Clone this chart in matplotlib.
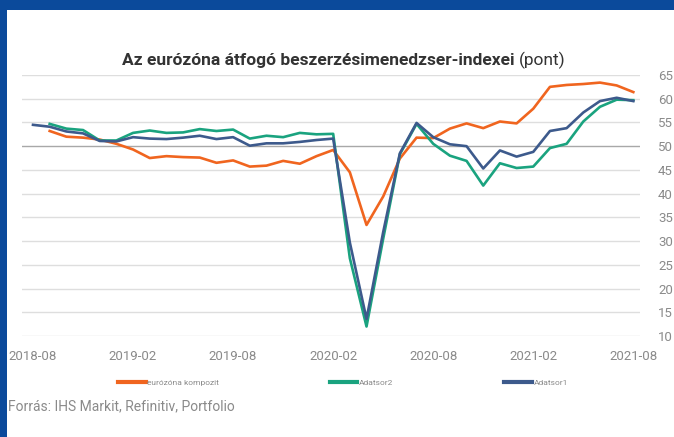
import numpy as np
import matplotlib
matplotlib.use("Agg")
import matplotlib.pyplot as plt
from matplotlib.patches import Rectangle
from matplotlib.lines import Line2D

months = ["2018-08","2018-09","2018-10","2018-11","2018-12","2019-01","2019-02","2019-03",
          "2019-04","2019-05","2019-06","2019-07","2019-08","2019-09","2019-10","2019-11",
          "2019-12","2020-01","2020-02","2020-03","2020-04","2020-05","2020-06","2020-07",
          "2020-08","2020-09","2020-10","2020-11","2020-12","2021-01","2021-02","2021-03",
          "2021-04","2021-05","2021-06","2021-07","2021-08"]
nan = np.nan
kompozit = [nan, 53.2, 52.0, 51.8, 51.4, 50.5, 49.3, 47.5, 47.9, 47.7, 47.6, 46.5, 47.0,
            45.7, 45.9, 46.9, 46.3, 47.9, 49.2, 44.5, 33.4, 39.4, 47.4, 51.8, 51.7, 53.7,
            54.8, 53.8, 55.2, 54.8, 57.9, 62.5, 62.9, 63.1, 63.4, 62.8, 61.4]
adatsor2 = [nan, 54.7, 53.7, 53.4, 51.2, 51.2, 52.8, 53.3, 52.8, 52.9, 53.6, 53.2, 53.5,
            51.6, 52.2, 51.9, 52.8, 52.5, 52.6, 26.4, 12.0, 30.5, 48.3, 54.7, 50.5, 48.0,
            46.9, 41.7, 46.4, 45.4, 45.7, 49.6, 50.5, 55.2, 58.3, 59.8, 59.7]
adatsor1 = [54.5, 54.1, 53.1, 52.7, 51.1, 51.0, 51.9, 51.6, 51.5, 51.8, 52.2, 51.5, 51.9,
            50.1, 50.6, 50.6, 50.9, 51.3, 51.6, 29.7, 13.6, 31.9, 48.5, 54.9, 51.9, 50.4,
            50.0, 45.3, 49.1, 47.8, 48.8, 53.2, 53.8, 57.1, 59.5, 60.2, 59.5]
series_names = ["eurózóna kompozit", "Adatsor2", "Adatsor1"]
xtick_labels = ["2018-08", "2019-02", "2019-08", "2020-02", "2020-08", "2021-02", "2021-08"]
yticks = [10, 15, 20, 25, 30, 35, 40, 45, 50, 55, 60, 65]

C_OR = "#f0651f"
C_GR = "#1aa37f"
C_BL = "#3d5a8c"
GRAY = "#8a8a8a"

plt.rcParams['font.family'] = ['Roboto', 'DejaVu Sans']

W, H = 674, 437
fig = plt.figure(figsize=(W/100, H/100), dpi=100)
fig.patch.set_facecolor("#0b4a9b")
fig.patches.append(Rectangle((7/W, 0), 1, (H-10)/H, transform=fig.transFigure,
                             facecolor="white", edgecolor="none", zorder=-5))

ax = fig.add_axes([22/W, 1-336/H, (640-22)/W, (336-75)/H])
ax.set_zorder(2)
ax.set_facecolor("none")
x = np.arange(len(months))
ax.plot(x, kompozit, color=C_OR, lw=1.9, zorder=3)
ax.plot(x, adatsor2, color=C_GR, lw=1.9, zorder=4)
ax.plot(x, adatsor1, color=C_BL, lw=1.9, zorder=5)

ax.set_ylim(10, 65)
ax.set_xlim(-0.66, 36.4)
ax.set_yticks(yticks)
ax.yaxis.tick_right()
ax.tick_params(axis='y', length=0, pad=13, labelcolor=GRAY, labelsize=9.5)
ax.set_xticks([months.index(m) for m in xtick_labels])
ax.set_xticklabels(xtick_labels)
ax.tick_params(axis='x', length=0, pad=10, labelcolor=GRAY, labelsize=9.5)
for s in ax.spines.values():
    s.set_visible(False)
for yv in yticks:
    if yv == 50:
        ax.axhline(yv, color="#a8a8a8", lw=1.0, zorder=2)
    else:
        ax.axhline(yv, color="#dedede", lw=1.0, zorder=1)

t1 = fig.text(122/W, 1-65/H, "Az eurózóna átfogó beszerzésimenedzser-indexei ",
              fontsize=12.5, fontweight="bold", color="#333333", va="baseline", ha="left")
fig.canvas.draw()
bb = t1.get_window_extent()
fig.text(bb.x1/W, 1-65/H, "(pont)", fontsize=12.5, color="#333333", va="baseline", ha="left")

handles = [Line2D([], [], color=c, lw=3) for c in (C_OR, C_GR, C_BL)]
fig.legend(handles, series_names, loc="center left", bbox_to_anchor=(118/W, 1-383/H),
           ncol=3, frameon=False, fontsize=6, handlelength=3.3, handletextpad=0.2,
           columnspacing=13.3, borderpad=0, borderaxespad=0, labelcolor=GRAY)

fig.text(8/W, 1-406/H, "Forrás: IHS Markit, Refinitiv, Portfolio", fontsize=10,
         color=GRAY, va="center", ha="left")

fig.savefig("out.png", dpi=100, facecolor=fig.get_facecolor())
